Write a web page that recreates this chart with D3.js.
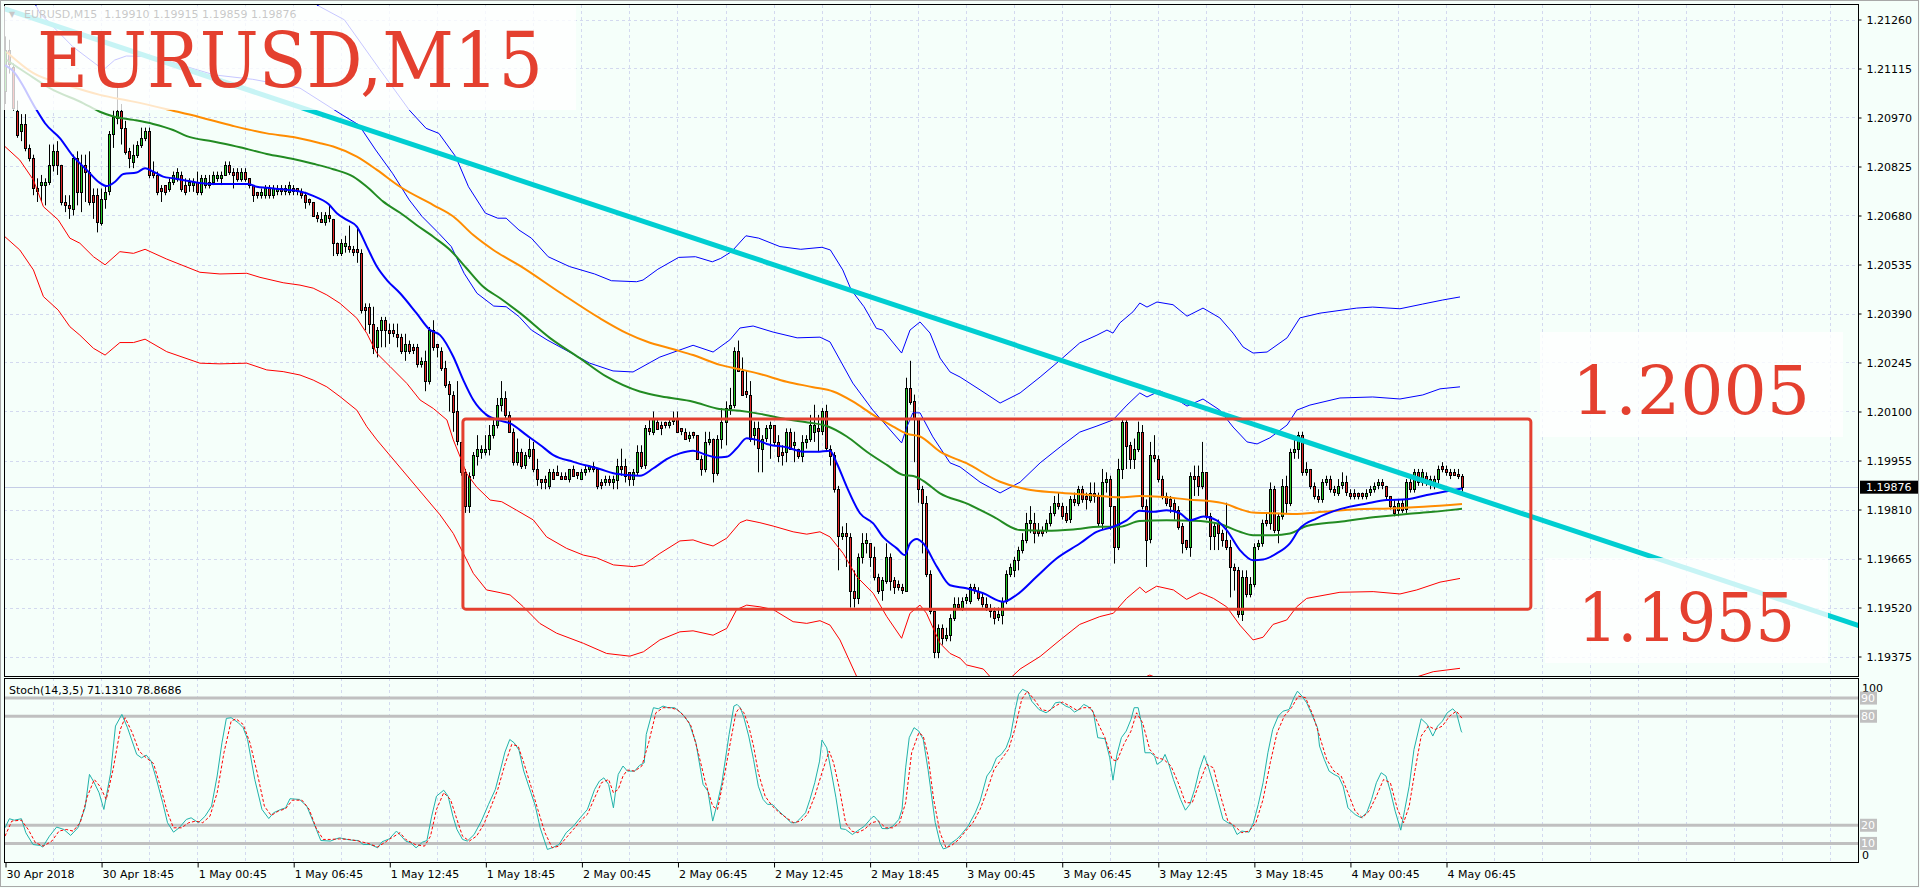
<!DOCTYPE html>
<html>
<head>
<meta charset="utf-8">
<script src="https://cdn.jsdelivr.net/npm/d3@7"></script>
<style>
  html, body { margin: 0; padding: 0; background: #f5fffa; }
  svg { display: block; }
  text { font-family: "DejaVu Sans", sans-serif; }
</style>
</head>
<body>
<svg id="chart"></svg>
<script>
// EURUSD M15, 30 Apr 12:45 .. 4 May 07:45, one entry per bar
const opens = [
  1.2105,1.2117,1.2112,1.2099,1.2093,1.2095,1.2088,1.2085,1.2075,1.2077,
  1.2077,1.2078,1.2083,1.2087,1.2083,1.2072,1.2071,1.2070,1.2085,1.2075,
  1.2083,1.2081,1.2074,1.2074,1.2066,1.2073,1.2075,1.2092,1.2097,1.2099,
  1.2094,1.2087,1.2084,1.2086,1.2089,1.2091,1.2093,1.2081,1.2080,1.2076,
  1.2077,1.2076,1.2078,1.2079,1.2080,1.2077,1.2077,1.2077,1.2078,1.2075,
  1.2077,1.2077,1.2078,1.2079,1.2079,1.2080,1.2083,1.2081,1.2081,1.2079,
  1.2081,1.2079,1.2077,1.2075,1.2074,1.2074,1.2076,1.2074,1.2075,1.2076,
  1.2075,1.2075,1.2076,1.2076,1.2075,1.2074,1.2073,1.2072,1.2068,1.2067,
  1.2066,1.2068,1.2067,1.2060,1.2057,1.2059,1.2059,1.2058,1.2058,1.2057,
  1.2041,1.2041,1.2036,1.2029,1.2034,1.2037,1.2034,1.2034,1.2033,1.2032,
  1.2028,1.2030,1.2029,1.2029,1.2024,1.2025,1.2019,1.2034,1.2030,1.2028,
  1.2023,1.2018,1.2015,1.2010,1.2001,1.1992,1.1982,1.1991,1.1997,1.1998,
  1.1998,1.1999,1.2003,1.2006,1.2012,1.2014,1.2009,1.2004,1.1995,1.1998,
  1.1994,1.1997,1.1999,1.1993,1.1990,1.1990,1.1988,1.1992,1.1992,1.1991,
  1.1991,1.1990,1.1993,1.1992,1.1990,1.1992,1.1993,1.1994,1.1993,1.1989,
  1.1989,1.1990,1.1989,1.1990,1.1994,1.1994,1.1992,1.1990,1.1992,1.1998,
  1.1994,1.2005,1.2004,1.2007,1.2006,1.2007,1.2006,1.2007,1.2008,1.2005,
  1.2004,1.2002,1.2004,1.2003,1.1996,1.1993,1.2001,1.2002,1.1992,1.2002,
  1.2007,1.2011,1.2012,1.2028,1.2022,1.2016,1.2015,1.2003,1.2005,1.1999,
  1.2002,1.2005,1.2006,1.2001,1.1998,1.1998,1.2004,1.2000,1.1999,1.1997,
  1.2001,1.2002,1.2004,1.2005,1.2004,1.2010,1.1999,1.1997,1.1987,1.1973,
  1.1974,1.1973,1.1957,1.1955,1.1967,1.1971,1.1971,1.1967,1.1961,1.1957,
  1.1960,1.1967,1.1960,1.1959,1.1958,1.1957,1.2017,1.2013,1.2008,1.1987,
  1.1983,1.1962,1.1951,1.1939,1.1946,1.1943,1.1944,1.1949,1.1953,1.1952,
  1.1954,1.1954,1.1958,1.1957,1.1955,1.1953,1.1952,1.1951,1.1949,1.1950,
  1.1954,1.1962,1.1963,1.1966,1.1969,1.1972,1.1977,1.1977,1.1975,1.1975,
  1.1975,1.1977,1.1980,1.1983,1.1982,1.1980,1.1978,1.1984,1.1983,1.1987,
  1.1985,1.1984,1.1986,1.1985,1.1977,1.1989,1.1990,1.1982,1.1970,1.1993,
  1.2007,1.2000,1.1996,1.1999,1.2004,1.1982,1.1972,1.1997,1.1996,1.1990,
  1.1985,1.1984,1.1983,1.1981,1.1976,1.1972,1.1970,1.1991,1.1991,1.1988,
  1.1992,1.1979,1.1973,1.1977,1.1974,1.1972,1.1970,1.1964,1.1963,1.1950,
  1.1961,1.1956,1.1959,1.1970,1.1971,1.1978,1.1977,1.1987,1.1975,1.1979,
  1.1988,1.1983,1.1998,1.1999,1.2003,1.1992,1.1993,1.1988,1.1985,1.1984,
  1.1989,1.1990,1.1987,1.1986,1.1988,1.1989,1.1986,1.1986,1.1986,1.1986,
  1.1985,1.1986,1.1987,1.1988,1.1989,1.1988,1.1985,1.1982,1.1981,1.1983,
  1.1981,1.1989,1.1987,1.1992,1.1989,1.1991,1.1989,1.1989,1.1990,1.1994,
  1.1993,1.1992,1.1992,1.19915,1.19910
];
const highs = [
  1.2121,1.2120,1.2113,1.2102,1.2098,1.2098,1.2089,1.2086,1.2079,1.2080,
  1.2079,1.2089,1.2089,1.2090,1.2083,1.2074,1.2074,1.2086,1.2087,1.2086,
  1.2086,1.2087,1.2076,1.2076,1.2076,1.2077,1.2093,1.2099,1.2106,1.2101,
  1.2096,1.2088,1.2089,1.2090,1.2094,1.2094,1.2094,1.2084,1.2081,1.2077,
  1.2077,1.2079,1.2081,1.2082,1.2081,1.2079,1.2079,1.2079,1.2081,1.2080,
  1.2080,1.2080,1.2081,1.2081,1.2081,1.2084,1.2084,1.2082,1.2082,1.2082,
  1.2082,1.2079,1.2077,1.2075,1.2076,1.2077,1.2077,1.2077,1.2077,1.2077,
  1.2077,1.2078,1.2077,1.2076,1.2076,1.2075,1.2073,1.2072,1.2069,1.2069,
  1.2069,1.2071,1.2067,1.2060,1.2061,1.2062,1.2065,1.2059,1.2064,1.2058,
  1.2042,1.2042,1.2041,1.2035,1.2038,1.2038,1.2036,1.2036,1.2036,1.2033,
  1.2033,1.2031,1.2030,1.2030,1.2026,1.2028,1.2035,1.2037,1.2030,1.2029,
  1.2025,1.2019,1.2016,1.2019,1.2001,1.1993,1.1992,1.1998,1.2003,1.2000,
  1.2003,1.2006,1.2008,1.2014,1.2019,1.2016,1.2010,1.2005,1.2002,1.1999,
  1.1998,1.2002,1.2001,1.1996,1.1990,1.1991,1.1993,1.1993,1.1994,1.1992,
  1.1992,1.1993,1.1994,1.1992,1.1993,1.1994,1.1994,1.1995,1.1993,1.1990,
  1.1991,1.1991,1.1991,1.1996,1.1999,1.1996,1.1992,1.1993,1.2000,1.2000,
  1.2006,1.2008,1.2010,1.2008,1.2007,1.2007,1.2008,1.2010,1.2010,1.2005,
  1.2005,1.2004,1.2004,1.2003,1.1997,1.2004,1.2004,1.2002,1.2003,1.2011,
  1.2013,1.2017,1.2029,1.2031,1.2026,1.2022,1.2019,1.2007,1.2007,1.2003,
  1.2006,1.2007,1.2006,1.2003,1.2000,1.2005,1.2005,1.2004,1.1999,1.2003,
  1.2003,1.2009,1.2012,1.2009,1.2011,1.2012,1.2000,1.1998,1.1988,1.1976,
  1.1977,1.1974,1.1963,1.1968,1.1974,1.1974,1.1971,1.1970,1.1962,1.1961,
  1.1971,1.1968,1.1961,1.1960,1.1959,1.2020,1.2025,1.2015,1.2008,1.1988,
  1.1985,1.1963,1.1951,1.1947,1.1947,1.1946,1.1950,1.1955,1.1955,1.1955,
  1.1956,1.1959,1.1959,1.1958,1.1956,1.1955,1.1953,1.1952,1.1952,1.1955,
  1.1963,1.1965,1.1967,1.1970,1.1974,1.1980,1.1982,1.1980,1.1977,1.1976,
  1.1978,1.1982,1.1985,1.1986,1.1983,1.1982,1.1985,1.1986,1.1988,1.1988,
  1.1986,1.1989,1.1989,1.1986,1.1993,1.1992,1.1991,1.1982,1.1996,1.2008,
  1.2008,1.2001,1.2002,1.2007,1.2006,1.1984,1.2001,1.2003,1.1997,1.1991,
  1.1986,1.1985,1.1984,1.1982,1.1977,1.1972,1.1992,1.1994,1.1994,1.2001,
  1.1992,1.1980,1.1977,1.1978,1.1975,1.1983,1.1972,1.1965,1.1964,1.1963,
  1.1963,1.1961,1.1971,1.1972,1.1978,1.1980,1.1989,1.1988,1.1980,1.1990,
  1.1991,1.1999,1.2002,1.2004,1.2004,1.1995,1.1993,1.1989,1.1987,1.1990,
  1.1991,1.1991,1.1988,1.1990,1.1992,1.1991,1.1987,1.1987,1.1986,1.1986,
  1.1987,1.1988,1.1989,1.1990,1.1990,1.1988,1.1985,1.1984,1.1984,1.1984,
  1.1990,1.1990,1.1993,1.1993,1.1993,1.1992,1.1991,1.1991,1.1994,1.1995,
  1.1994,1.1993,1.1993,1.1993,1.19915
];
const lows = [
  1.2101,1.2110,1.2099,1.2091,1.2090,1.2087,1.2084,1.2074,1.2072,1.2072,
  1.2071,1.2077,1.2081,1.2080,1.2071,1.2069,1.2067,1.2068,1.2071,1.2069,
  1.2072,1.2071,1.2067,1.2063,1.2065,1.2070,1.2074,1.2088,1.2095,1.2089,
  1.2086,1.2082,1.2082,1.2085,1.2088,1.2090,1.2079,1.2079,1.2074,1.2072,
  1.2074,1.2075,1.2077,1.2078,1.2075,1.2074,1.2075,1.2075,1.2074,1.2074,
  1.2076,1.2076,1.2077,1.2078,1.2077,1.2080,1.2080,1.2076,1.2078,1.2078,
  1.2078,1.2076,1.2072,1.2073,1.2073,1.2073,1.2073,1.2073,1.2074,1.2074,
  1.2074,1.2074,1.2074,1.2074,1.2073,1.2070,1.2071,1.2068,1.2066,1.2066,
  1.2065,1.2066,1.2056,1.2056,1.2056,1.2057,1.2057,1.2056,1.2054,1.2039,
  1.2034,1.2033,1.2027,1.2026,1.2029,1.2029,1.2030,1.2032,1.2029,1.2027,
  1.2025,1.2027,1.2027,1.2023,1.2023,1.2016,1.2018,1.2028,1.2026,1.2022,
  1.2017,1.2010,1.2004,1.2000,1.1991,1.1980,1.1980,1.1990,1.1994,1.1996,
  1.1997,1.1997,1.2002,1.2005,1.2010,1.2008,1.2004,1.1994,1.1994,1.1993,
  1.1993,1.1996,1.1992,1.1988,1.1987,1.1987,1.1987,1.1990,1.1991,1.1990,
  1.1990,1.1989,1.1991,1.1990,1.1990,1.1991,1.1992,1.1992,1.1987,1.1987,
  1.1988,1.1988,1.1987,1.1987,1.1991,1.1989,1.1988,1.1988,1.1991,1.1993,
  1.1993,1.2003,1.2003,1.2005,1.2003,1.2005,1.2005,1.2006,1.2004,1.2003,
  1.2002,1.2001,1.2002,1.1996,1.1991,1.1992,1.2000,1.1989,1.1991,1.1999,
  1.2000,1.2009,1.2011,1.2022,1.2015,1.2014,1.2001,1.2000,1.1992,1.1992,
  1.2001,1.1996,1.2000,1.1995,1.1994,1.1995,1.1999,1.1995,1.1996,1.1995,
  1.1999,1.2001,1.2001,1.1998,1.2003,1.1998,1.1994,1.1986,1.1963,1.1972,
  1.1964,1.1952,1.1952,1.1953,1.1965,1.1968,1.1964,1.1960,1.1956,1.1954,
  1.1959,1.1957,1.1956,1.1957,1.1956,1.1957,1.2012,1.1995,1.1983,1.1968,
  1.1961,1.1950,1.1937,1.1937,1.1941,1.1942,1.1942,1.1948,1.1952,1.1951,
  1.1953,1.1953,1.1956,1.1954,1.1952,1.1951,1.1949,1.1947,1.1948,1.1947,
  1.1953,1.1961,1.1961,1.1963,1.1968,1.1971,1.1974,1.1971,1.1973,1.1973,
  1.1974,1.1976,1.1979,1.1981,1.1978,1.1977,1.1977,1.1982,1.1982,1.1983,
  1.1981,1.1983,1.1983,1.1976,1.1975,1.1986,1.1975,1.1965,1.1969,1.1990,
  1.1993,1.1993,1.1993,1.1998,1.1981,1.1964,1.1971,1.1995,1.1989,1.1984,
  1.1982,1.1980,1.1978,1.1975,1.1968,1.1969,1.1967,1.1985,1.1985,1.1987,
  1.1978,1.1969,1.1969,1.1969,1.1970,1.1969,1.1955,1.1957,1.1949,1.1948,
  1.1955,1.1955,1.1958,1.1969,1.1970,1.1976,1.1975,1.1974,1.1971,1.1978,
  1.1980,1.1982,1.1996,1.1996,1.1991,1.1991,1.1987,1.1984,1.1983,1.1983,
  1.1988,1.1986,1.1985,1.1985,1.1987,1.1985,1.1984,1.1984,1.1984,1.1984,
  1.1984,1.1985,1.1986,1.1987,1.1987,1.1984,1.1981,1.1979,1.1979,1.1980,
  1.1980,1.1986,1.1986,1.1988,1.1988,1.1988,1.1987,1.1987,1.1988,1.1992,
  1.1991,1.1990,1.1991,1.1990,1.19859
];
const closes = [
  1.2117,1.2113,1.2100,1.2092,1.2095,1.2088,1.2085,1.2076,1.2076,1.2078,
  1.2078,1.2083,1.2087,1.2083,1.2072,1.2071,1.2070,1.2085,1.2075,1.2083,
  1.2081,1.2072,1.2072,1.2066,1.2073,1.2075,1.2092,1.2097,1.2099,1.2094,
  1.2087,1.2085,1.2086,1.2089,1.2091,1.2093,1.2080,1.2080,1.2075,1.2075,
  1.2075,1.2078,1.2080,1.2081,1.2076,1.2075,1.2078,1.2078,1.2075,1.2079,
  1.2079,1.2078,1.2080,1.2080,1.2080,1.2083,1.2081,1.2080,1.2079,1.2081,
  1.2079,1.2077,1.2074,1.2074,1.2075,1.2076,1.2074,1.2076,1.2076,1.2075,
  1.2076,1.2077,1.2075,1.2075,1.2074,1.2072,1.2072,1.2068,1.2067,1.2066,
  1.2068,1.2067,1.2060,1.2057,1.2060,1.2060,1.2058,1.2057,1.2057,1.2040,
  1.2040,1.2036,1.2029,1.2034,1.2037,1.2034,1.2033,1.2033,1.2032,1.2028,
  1.2030,1.2028,1.2028,1.2024,1.2025,1.2019,1.2034,1.2029,1.2029,1.2023,
  1.2018,1.2015,1.2010,1.2001,1.1992,1.1982,1.1991,1.1997,1.1999,1.1999,
  1.1999,1.2003,1.2006,1.2012,1.2014,1.2009,1.2004,1.1995,1.1998,1.1994,
  1.1997,1.1999,1.1993,1.1990,1.1989,1.1989,1.1992,1.1990,1.1991,1.1990,
  1.1990,1.1993,1.1991,1.1991,1.1992,1.1993,1.1994,1.1993,1.1988,1.1988,
  1.1990,1.1989,1.1990,1.1994,1.1993,1.1991,1.1990,1.1992,1.1998,1.1994,
  1.2005,1.2004,1.2008,1.2005,1.2005,1.2006,1.2007,1.2008,1.2004,1.2004,
  1.2002,1.2003,1.2003,1.1996,1.1993,1.2001,1.2002,1.1992,1.2002,1.2007,
  1.2011,1.2012,1.2028,1.2022,1.2015,1.2015,1.2002,1.2005,1.1999,1.2002,
  1.2005,1.2006,1.2001,1.1997,1.1997,1.2004,1.1999,1.2001,1.1997,1.2001,
  1.2002,1.2006,1.2006,1.2004,1.2010,1.1999,1.1997,1.1987,1.1973,1.1974,
  1.1973,1.1957,1.1955,1.1967,1.1971,1.1972,1.1967,1.1961,1.1957,1.1960,
  1.1967,1.1960,1.1958,1.1958,1.1957,1.2017,1.2013,1.2008,1.1987,1.1983,
  1.1962,1.1951,1.1939,1.1946,1.1943,1.1944,1.1949,1.1953,1.1952,1.1954,
  1.1955,1.1958,1.1957,1.1955,1.1953,1.1952,1.1951,1.1949,1.1950,1.1954,
  1.1962,1.1964,1.1966,1.1969,1.1972,1.1977,1.1978,1.1974,1.1974,1.1974,
  1.1977,1.1980,1.1983,1.1982,1.1979,1.1978,1.1984,1.1983,1.1987,1.1984,
  1.1984,1.1986,1.1985,1.1977,1.1989,1.1990,1.1982,1.1970,1.1993,1.2007,
  1.2000,1.1996,1.1999,1.2004,1.1982,1.1972,1.1997,1.1996,1.1990,1.1985,
  1.1983,1.1982,1.1981,1.1976,1.1971,1.1970,1.1991,1.1990,1.1988,1.1992,
  1.1979,1.1973,1.1976,1.1974,1.1972,1.1970,1.1964,1.1963,1.1950,1.1961,
  1.1956,1.1959,1.1970,1.1971,1.1977,1.1977,1.1987,1.1975,1.1979,1.1988,
  1.1983,1.1998,1.1999,1.2003,1.1992,1.1993,1.1988,1.1985,1.1984,1.1989,
  1.1990,1.1987,1.1986,1.1988,1.1989,1.1986,1.1985,1.1985,1.1985,1.1985,
  1.1986,1.1987,1.1988,1.1989,1.1988,1.1985,1.1982,1.1980,1.1983,1.1981,
  1.1989,1.1987,1.1992,1.1989,1.1992,1.1989,1.1990,1.1990,1.1993,1.1993,
  1.1992,1.1991,1.1991,1.19910,1.19876
];

// indicator lines as [bar, price]
const maBlue = [[0,1.21125],[1.7,1.21111],[7.9,1.20992],[10,1.20953],[13.7,1.20909],[17.1,1.20854],[20.4,1.20815],[23.3,1.20780],[25.4,1.20767],[27.5,1.20780],[29.6,1.20803],[32.9,1.20807],[35,1.20820],[37,1.20810],[39.5,1.20795],[42,1.20790],[45.4,1.20783],[48.7,1.20776],[52,1.20773],[57,1.20773],[60.8,1.20773],[62.9,1.20765],[65.4,1.20762],[70.4,1.20756],[73.7,1.20751],[77,1.20738],[80.8,1.20714],[82.9,1.20687],[85.4,1.20667],[87.9,1.20647],[90.4,1.20588],[92.9,1.20529],[95.4,1.20489],[98.7,1.20450],[102.8,1.20391],[106.2,1.20341],[108.7,1.20326],[112,1.20262],[114.5,1.20193],[117,1.20134],[120.3,1.20090],[123.7,1.20073],[126.2,1.20065],[130.3,1.20030],[133.7,1.20001],[137,1.19971],[142,1.19951],[145.3,1.19940],[148.6,1.19930],[152,1.19917],[155.3,1.19912],[158.6,1.19910],[162,1.19932],[165.3,1.19959],[168.6,1.19976],[171.9,1.19984],[175.3,1.19971],[177.8,1.19964],[180.3,1.19966],[182.8,1.19991],[185.3,1.20021],[187.8,1.20016],[190.3,1.20004],[195.3,1.19994],[199.4,1.19981],[202.8,1.19981],[206.1,1.19984],[207.8,1.19947],[210.3,1.19877],[213.6,1.19799],[216.9,1.19769],[219.4,1.19728],[222.8,1.19695],[224.8,1.19675],[226.1,1.19710],[227.8,1.19723],[229.4,1.19710],[232.8,1.19641],[236.1,1.19586],[240.2,1.19577],[244.4,1.19562],[249.4,1.19537],[252.7,1.19557],[257.7,1.19611],[262.7,1.19665],[268.6,1.19710],[272.7,1.19744],[276.9,1.19759],[280.2,1.19778],[283.5,1.19806],[286.9,1.19803],[290.2,1.19808],[293.5,1.19799],[296,1.19778],[299.4,1.19789],[302.7,1.19778],[305.2,1.19749],[308.5,1.19690],[311.8,1.19660],[314.3,1.19662],[317.7,1.19680],[321,1.19710],[323.5,1.19754],[327.7,1.19784],[333.5,1.19811],[340.2,1.19828],[345.2,1.19838],[350.2,1.19840],[355.2,1.19853],[360.2,1.19864],[364,1.19872]];
const maGreen = [[0.4,1.21140],[5.4,1.21101],[11.2,1.21057],[19.6,1.21012],[23.7,1.20987],[27.1,1.20973],[32.1,1.20963],[37,1.20951],[42,1.20933],[45.4,1.20915],[52,1.20899],[58.7,1.20882],[65.4,1.20862],[72,1.20847],[77,1.20833],[82,1.20817],[87,1.20795],[90.4,1.20765],[94.5,1.20721],[98.7,1.20688],[102.8,1.20652],[107,1.20617],[111.2,1.20578],[115.3,1.20524],[119.5,1.20469],[123.7,1.20435],[128.7,1.20391],[136.1,1.20318],[143.6,1.20258],[150.3,1.20203],[158.6,1.20159],[165.3,1.20142],[171.9,1.20129],[177.8,1.20109],[183.6,1.20102],[188.6,1.20093],[195.3,1.20077],[201.1,1.20067],[205.3,1.20057],[210.3,1.20026],[215.3,1.19981],[220.3,1.19942],[224.4,1.19912],[226.9,1.19909],[229.4,1.19895],[233.6,1.19858],[240.2,1.19828],[246.9,1.19789],[253.6,1.19749],[260.2,1.19747],[266.9,1.19751],[273.5,1.19759],[278.5,1.19759],[283.5,1.19776],[290.2,1.19778],[296.9,1.19777],[303.5,1.19767],[308.5,1.19744],[311.8,1.19734],[316.8,1.19734],[321,1.19739],[325.2,1.19761],[333.5,1.19774],[341.8,1.19787],[350.2,1.19797],[356.8,1.19803],[364,1.19812]];
const maOrange = [[0.4,1.21164],[7.1,1.21101],[15.4,1.21066],[23.7,1.21037],[32.1,1.21017],[42,1.20990],[48.7,1.20971],[57,1.20945],[65.4,1.20923],[72,1.20912],[78.7,1.20894],[82,1.20884],[87.9,1.20854],[92.9,1.20815],[98.7,1.20765],[107,1.20711],[112,1.20677],[117,1.20622],[122,1.20578],[128.7,1.20531],[138.9,1.20450],[148.6,1.20376],[155.3,1.20332],[160.3,1.20307],[167,1.20284],[171.9,1.20267],[178.6,1.20238],[183.6,1.20225],[188.6,1.20211],[195.3,1.20188],[201.9,1.20172],[206.9,1.20159],[211.9,1.20129],[216.9,1.20090],[221.9,1.20055],[225.3,1.20034],[228.6,1.20026],[233.6,1.19981],[240.2,1.19947],[248.6,1.19892],[255.2,1.19870],[262.7,1.19860],[271,1.19853],[278.5,1.19846],[283.5,1.19850],[288.5,1.19848],[296.9,1.19838],[300.2,1.19836],[305.2,1.19826],[308.5,1.19811],[311.8,1.19801],[316.8,1.19799],[321.8,1.19797],[329.3,1.19803],[337.7,1.19811],[346.1,1.19813],[354.4,1.19818],[364,1.19826]];
const bandUpperInner = [[6.5,1.21330],[8.7,1.21279],[16.9,1.21180],[24.6,1.21111],[27.4,1.21140],[30.3,1.21152],[37,1.21150],[52.3,1.21096],[61.9,1.21083],[73.7,1.21057],[84.2,1.20978],[88.4,1.20948],[92.6,1.20874],[96.8,1.20805],[101,1.20726],[104.2,1.20677],[108.4,1.20627],[111.5,1.20588],[114.7,1.20509],[117.9,1.20450],[122.1,1.20412],[125.2,1.20410],[128.4,1.20381],[131.5,1.20341],[135.4,1.20312],[146.1,1.20243],[151.9,1.20220],[156.9,1.20217],[163.6,1.20261],[171.9,1.20296],[176.9,1.20276],[181.1,1.20312],[183.6,1.20347],[186.9,1.20353],[191.9,1.20335],[197.9,1.20318],[203.6,1.20320],[206.1,1.20306],[211.8,1.20184],[216.8,1.20104],[224,1.20007],[225.3,1.20054],[226.8,1.20096],[228.6,1.20096],[231.8,1.20025],[236.1,1.19948],[238.6,1.19936],[243.6,1.19891],[248.6,1.19859],[253.6,1.19891],[258.6,1.19948],[263.6,1.19995],[268.5,1.20039],[272.8,1.20057],[276.8,1.20075],[280.3,1.20119],[283.5,1.20155],[285.3,1.20143],[288.5,1.20161],[291.8,1.20143],[295.3,1.20116],[299.3,1.20137],[303.5,1.20104],[306.8,1.20054],[310.3,1.20010],[312.8,1.20004],[316,1.20022],[320.3,1.20060],[322.7,1.20104],[326,1.20119],[333.5,1.20140],[341.7,1.20143],[348.5,1.20137],[354.2,1.20149],[358.5,1.20167],[363.5,1.20173]];
const bandUpperOuter = [[75,1.21345],[77.9,1.21303],[84.8,1.21259],[93.7,1.21111],[101,1.20992],[105.2,1.20938],[108.4,1.20923],[112.6,1.20854],[115.8,1.20765],[120,1.20687],[123.1,1.20672],[125.2,1.20672],[128.4,1.20637],[131.5,1.20613],[135.7,1.20558],[141,1.20529],[147.3,1.20507],[151.5,1.20487],[157.8,1.20484],[159.4,1.20489],[163.1,1.20521],[168.3,1.20556],[172.5,1.20558],[176.7,1.20543],[178.8,1.20553],[181.5,1.20573],[185.1,1.20620],[188.3,1.20613],[193.6,1.20588],[198.8,1.20580],[204.1,1.20586],[206.2,1.20578],[209.3,1.20519],[211.4,1.20460],[214.6,1.20410],[217.7,1.20346],[219.3,1.20341],[224,1.20273],[226.1,1.20341],[228.6,1.20365],[231.1,1.20332],[233.6,1.20258],[236.1,1.20217],[238.6,1.20202],[243.6,1.20164],[248.6,1.20125],[253.6,1.20155],[258.6,1.20202],[263.6,1.20252],[268.5,1.20303],[272.8,1.20326],[275.3,1.20341],[276.8,1.20332],[278.5,1.20362],[281.8,1.20395],[283.5,1.20421],[285.3,1.20409],[287.8,1.20424],[291.8,1.20416],[295.3,1.20382],[299.3,1.20406],[303.5,1.20377],[306.8,1.20332],[309.3,1.20291],[311.8,1.20273],[315.3,1.20276],[320.3,1.20318],[323.5,1.20377],[328.5,1.20391],[337.7,1.20406],[341.7,1.20409],[348.5,1.20404],[354.2,1.20418],[359.2,1.20430],[363.5,1.20439]];
const bandLowerInner = [[0,1.20884],[3.7,1.20844],[7.1,1.20785],[9.6,1.20706],[13.3,1.20667],[16.2,1.20613],[18.7,1.20598],[22.1,1.20558],[25,1.20534],[28.7,1.20573],[32.1,1.20568],[35,1.20580],[40.4,1.20551],[48.7,1.20512],[53.7,1.20507],[60.4,1.20509],[63.7,1.20497],[69.5,1.20481],[73.7,1.20474],[77,1.20465],[80.4,1.20445],[83.7,1.20420],[87.9,1.20376],[90.4,1.20331],[92.9,1.20272],[96.2,1.20233],[100.4,1.20183],[103.7,1.20134],[107,1.20109],[110.4,1.20075],[112,1.20016],[113.7,1.19966],[115.3,1.19917],[117.8,1.19877],[121.2,1.19838],[124.1,1.19833],[127.8,1.19808],[132,1.19779],[135.3,1.19729],[140.3,1.19695],[144.5,1.19675],[147.8,1.19667],[152,1.19646],[157,1.19641],[159.5,1.19646],[163.6,1.19680],[168.6,1.19717],[171.9,1.19720],[174.4,1.19710],[176.9,1.19702],[180.3,1.19725],[183.6,1.19771],[185.3,1.19779],[188.6,1.19771],[191.9,1.19761],[196.9,1.19744],[200.3,1.19737],[203.6,1.19744],[206.1,1.19729],[209.4,1.19680],[212.8,1.19611],[216.9,1.19562],[220.3,1.19493],[224,1.19429],[226.1,1.19503],[228.6,1.19527],[230.2,1.19503],[233.6,1.19414],[236.1,1.19384],[238.6,1.19370],[240.2,1.19350],[244.4,1.19338],[248.6,1.19282],[253.6,1.19338],[258.6,1.19375],[263.6,1.19424],[268.5,1.19470],[273.5,1.19493],[276.9,1.19503],[280.2,1.19547],[283.5,1.19580],[285,1.19564],[287.7,1.19583],[291.9,1.19572],[295.2,1.19544],[298.5,1.19564],[301.9,1.19547],[305.2,1.19522],[308.5,1.19468],[311.8,1.19424],[314.3,1.19432],[316.8,1.19470],[320.2,1.19483],[322.7,1.19522],[325.2,1.19547],[333.5,1.19565],[341.8,1.19567],[348.5,1.19560],[352.7,1.19572],[358.5,1.19595],[363.5,1.19606]];
const bandLowerOuter = [[0,1.20617],[3.7,1.20578],[7.1,1.20519],[9.6,1.20440],[13.3,1.20400],[16.2,1.20351],[18.7,1.20326],[22.1,1.20287],[25,1.20267],[28.7,1.20304],[32.1,1.20304],[35,1.20314],[40.4,1.20277],[48.7,1.20243],[53.7,1.20241],[60.4,1.20243],[65.4,1.20223],[69.5,1.20218],[73.7,1.20208],[77,1.20193],[80.4,1.20173],[83.7,1.20144],[87.9,1.20104],[90.4,1.20055],[92.9,1.20016],[108.7,1.19794],[112,1.19739],[114.5,1.19680],[117,1.19621],[120.3,1.19572],[123.7,1.19564],[126.2,1.19557],[129.5,1.19522],[133.6,1.19473],[137.8,1.19444],[144.5,1.19414],[150.3,1.19384],[156.1,1.19376],[159.5,1.19389],[163.6,1.19424],[168.6,1.19448],[171.9,1.19451],[176.9,1.19438],[180.3,1.19458],[182.8,1.19514],[185.3,1.19527],[188.6,1.19522],[191.9,1.19514],[196.9,1.19478],[200.3,1.19473],[203.6,1.19481],[206.1,1.19468],[208.6,1.19424],[212.8,1.19315],[223.6,1.19142],[248.6,1.19039],[268.5,1.19231],[286,1.19320],[298.5,1.19261],[313.5,1.19142],[331,1.19246],[348.5,1.19299],[356.8,1.19330],[363.5,1.19340]];

// Stoch(14,3,5) as [bar, value]
const stochMain = [[0,18.6],[1.1,23.6],[2.3,22.8],[4.1,23.6],[5.2,15.9],[7,9.4],[8.8,8.9],[9.4,8],[11.1,14],[12.9,19],[14.7,17.7],[16.4,14.4],[18.2,18.6],[20,29.6],[21.1,48],[22.3,43.4],[23.5,37.9],[24.7,28.7],[26.4,48.9],[27.6,74.6],[29.2,81],[30.6,73.7],[32.9,59],[34.1,57.1],[35.3,58.6],[36.5,55.3],[37.6,47.1],[39.4,32.4],[40.6,21.4],[42.1,16.2],[43.5,18.6],[45.3,23.2],[46.5,24.1],[48.3,21.4],[50,25],[51.6,30.5],[53,47.1],[54.2,65.4],[55.3,78.8],[56.5,79.2],[58.3,76.4],[59.5,73.7],[60.6,67.2],[62.4,45.2],[64.2,28.7],[65.9,23.7],[67.1,26.9],[68.9,28.7],[70.1,29.6],[71.2,34.6],[73.6,34.2],[75.4,30.5],[77.1,21.4],[78.9,11.6],[81.3,11.3],[82.7,12.5],[83.6,13.1],[85.4,12.2],[86.6,11.8],[88.3,11.6],[89.5,9.4],[91.3,9.4],[93.1,7.6],[94.2,10.9],[96,12.5],[97.8,16.8],[99,14],[100.1,11.3],[101.3,10.4],[102.7,7.6],[104.3,10.7],[105.4,11.6],[106.6,25],[107.8,36],[109.6,39.3],[110.7,36],[111.9,25],[112.9,17.7],[114.3,12.2],[115.5,11.3],[117.2,14.9],[119,22.3],[120.8,31.5],[122.5,39.7],[123.7,49.8],[124.9,60.3],[126.1,67.2],[127.2,65.4],[128.4,61.4],[129.6,49.8],[131.4,37.9],[132.5,30.5],[133.7,18.6],[135.5,6.7],[136.7,7.6],[138.4,9.4],[140.2,15.9],[142,19.5],[143.7,24.1],[145.5,28.7],[147.3,39.7],[148.5,44.3],[149.6,46.1],[150.8,42.5],[152,29.6],[152.6,39.7],[153.2,48],[154.4,52.6],[155.5,49.8],[157.3,49.8],[158.5,52.9],[159.7,54.4],[160.2,70],[162,84.7],[163.2,84.1],[164.4,85.6],[165.6,84.7],[167.3,84.7],[169.1,81.5],[170.9,76.4],[172.6,65.4],[174.4,42.5],[175.6,38.8],[176.8,22.3],[178,32.4],[179.1,43.4],[180.9,70],[182.1,85.6],[182.9,86.5],[183.7,84.7],[184.6,79.2],[185.8,69.1],[187,56.2],[188.2,41.5],[189.4,34.2],[190.5,31.5],[191.7,31.5],[192.9,28.7],[194.7,25],[196.4,21.4],[197.6,21.4],[198.8,24.1],[200,26.9],[201.1,34.2],[202.3,43.4],[203.5,55.3],[204.1,66.9],[205.3,62.6],[206.4,49.8],[207.6,35.1],[208.8,18.1],[210,17.7],[211.7,14.9],[212.9,16.8],[214.7,19.5],[216.5,24.1],[217.1,25],[218.2,22.3],[219.1,18.2],[220.6,18.1],[221.8,19.5],[223.3,23.2],[224.1,28.7],[225,51.6],[225.9,68.2],[227.1,73.7],[228.3,71.8],[229.4,67.2],[230.6,50.7],[232.4,21.4],[233.6,10.4],[234.4,7],[235.3,7.6],[236.5,10.4],[237.7,12.2],[238.9,14.9],[240.6,19.5],[242.4,26.9],[243.6,33.3],[245.3,47.1],[246.5,50.7],[247.7,57.1],[248.9,59],[250.1,62.6],[251.2,69.1],[252.4,83.7],[253.2,92],[254.2,94.8],[255.6,93.3],[256.5,88.3],[258.3,83.7],[260.1,81.9],[261.3,83.7],[262.4,87.4],[263.6,87.8],[265,85.6],[266,84.7],[267.2,82.3],[268.3,83.7],[269.5,86.5],[270.7,85.2],[271.9,82.3],[273,68.2],[274.8,67.6],[276,57.1],[276.8,44.8],[277.8,59],[278.9,68.2],[280.1,71.8],[281.3,78.2],[282.1,84.7],[283.1,84.7],[283.9,76.4],[284.8,59.9],[286.2,59.9],[287.2,58.1],[287.8,53.5],[289,55.3],[289.8,59],[290.7,54],[291.9,45.2],[293.7,34.2],[294.9,28.3],[296,31.5],[297.2,39.7],[298.4,50.7],[299.6,58.4],[300.7,51.6],[302.5,37.9],[304.3,23.2],[305.5,21.4],[306.6,20.4],[307.8,14.9],[309,16.8],[310.8,16.2],[311.9,21.4],[313.1,31.5],[314.3,43.4],[315.5,59.9],[316.7,72.7],[318.1,80.1],[319.3,82.8],[320.8,83.7],[322,90.2],[322.9,93.8],[324,91.1],[325.2,87.4],[326.3,81.9],[327.9,73.7],[328.4,63.6],[329.6,56.2],[330.8,49.8],[332,48],[333.2,46.7],[334.3,41.5],[335.5,29.6],[337.3,25.9],[338.8,24.1],[340.2,26.9],[341.4,34.2],[342.6,43.4],[343.8,48.9],[345,47.1],[346.1,38.8],[347.3,27.8],[348.7,17.3],[349.7,28.7],[350.8,41.5],[352,61.7],[353.8,78.6],[355.3,75.5],[356.7,69.1],[357.9,74.6],[359.1,77.3],[360.3,81.9],[361.7,84.1],[362.6,81.9],[363.8,71.8],[364,71.1]];
const stochSignal = [[0,14],[1.7,22.3],[4.1,22.8],[5.8,17.7],[7.6,10.4],[9.6,8.5],[11.7,11.3],[13.5,16.8],[15.3,17.7],[17,16.8],[18.8,21.4],[20.6,36],[22.3,45.2],[23.7,41.5],[25.3,34.2],[27,50.7],[28.8,72.7],[30,79.2],[31.8,70.9],[33.5,60.8],[35.3,57.1],[37.1,54],[38.8,41.5],[40.6,26.9],[42.1,18.6],[44.1,18.6],[45.9,21.4],[47.7,22.3],[49.4,21.4],[51.2,25],[53,37.9],[54.7,59.9],[56.5,77.3],[57.7,78.6],[59.5,75.5],[61.2,65.4],[63,48.9],[64.8,30.5],[66.5,25.4],[68.3,27.8],[70.1,29.1],[71.8,33.8],[74.2,33.8],[76,28.7],[77.7,18.6],[79.5,12.2],[81.3,12.2],[83.6,12.5],[86,12.2],[88.3,11.3],[90.7,10],[93.1,8.1],[94.8,10.4],[96.6,13.1],[98.7,15.9],[100.1,12.2],[102.5,9.4],[104.8,8.5],[106.3,14],[107.8,28.7],[109.6,37.9],[111.3,34.2],[112.9,23.2],[114.3,14],[116,11.3],[117.8,14],[119.6,20.4],[121.3,29.6],[123.1,39.7],[124.9,53.5],[126.6,64.5],[128.2,63.6],[129.6,54.4],[131.4,41.5],[133.1,28.7],[134.9,15.9],[136.7,7.6],[138.4,8.5],[140.2,13.1],[142,17.7],[143.7,22.3],[145.5,26],[147.3,35.1],[149,43.4],[150.8,45.2],[152,37.9],[153.2,39.7],[154.4,47.1],[155.5,50.4],[157.3,49.8],[159.1,52.6],[160.8,65.4],[162.6,81.9],[164.4,84.7],[166.1,84.7],[167.9,83.7],[169.7,80.1],[171.4,74.6],[173.2,59.9],[175,43.4],[176.8,30.5],[178,28.7],[179.7,47.1],[181.2,65.4],[182.6,81.9],[183.5,84.7],[184.6,81.9],[185.8,74.6],[187,63.6],[188.2,48.9],[189.9,36],[191.7,30.5],[193.5,26.9],[195.2,24.1],[197,21.4],[198.8,22.3],[200.5,26],[202.3,36],[204.1,48.9],[205.9,60.8],[207,54.4],[208.5,39.7],[210,21.4],[211.5,16.8],[212.9,15.9],[214.7,17.7],[216.5,21.4],[218.2,22.3],[220,18.6],[221.8,18.6],[223.5,21.4],[225,32.4],[226.5,59.9],[228.3,70.9],[229.4,69.1],[230.6,58.1],[232,34.2],[233.6,15.9],[235.1,7.6],[236.5,8.9],[238.3,12.2],[240,16.8],[241.8,21.4],[243.6,28.7],[245.3,38.8],[247.1,50.7],[248.9,56.2],[250.7,61.7],[252.4,73.7],[254,89.3],[255.4,93.8],[257.1,89.3],[258.9,83.7],[260.7,82.8],[262.4,85.6],[264.2,87.8],[266,85.6],[267.7,83.4],[269.5,84.7],[271.3,84.7],[273,76.4],[274.8,68.2],[276.6,56.2],[277.8,55.3],[279.5,64.5],[281.3,71.8],[282.7,81.9],[284.2,76.4],[286,61.7],[287.8,57.1],[289.5,56.2],[291.3,52.6],[293.1,43.4],[294.9,32.4],[296.6,32.4],[298.4,43.4],[300.2,53.5],[301.9,51.6],[303.7,36],[305.5,22.3],[307.2,19.5],[309,15.9],[310.8,16.8],[312.5,21.4],[314.3,34.2],[316.1,54.4],[317.8,70.9],[319.6,80.1],[321.4,84.7],[323.1,91.1],[324.9,90.2],[326.7,81],[328.4,69.1],[330.2,56.2],[332,49.8],[333.8,47.1],[335.5,37.9],[337.3,27.8],[339.1,24.1],[340.8,27.8],[342.6,36],[344.4,45.2],[346.1,43.4],[347.9,28.7],[349.4,21.4],[350.8,30.5],[352.3,50.7],[353.8,69.1],[355.6,74.6],[357.3,72.7],[359.1,74.6],[360.9,80.1],[362.6,82.8],[364,78.9]];

const stochLevels = [10, 20, 80, 90];
const priceTicks = [1.21260,1.21115,1.20970,1.20825,1.20680,1.20535,1.20390,1.20245,1.20100,1.19955,1.19810,1.19665,1.19520,1.19375];
const timeTickBars = [0,24,48,72,96,120,144,168,192,216,240,264,288,312,336,360];
const timeLabels = ["30 Apr 2018","30 Apr 18:45","1 May 00:45","1 May 06:45","1 May 12:45","1 May 18:45","2 May 00:45","2 May 06:45","2 May 12:45","2 May 18:45","3 May 00:45","3 May 06:45","3 May 12:45","3 May 18:45","4 May 00:45","4 May 06:45"];

// drawn objects: trend line anchors [bar, price] and the range box
const trendAnchors = [[0, 1.21291], [364, 1.19857]];
const rangeBox = { fromBar: 114.4, toBar: 381.2, top: 1.20078, bottom: 1.19515 };
const rangeLabels = ["1.2005", "1.1955"];
const symbol = "EURUSD,M15";
const stochCaption = "Stoch(14,3,5) 71.1310 78.8686";

(function() {

const W = 1920, H = 888;
const plot = { left: 4, right: 1858, top: 5, bottom: 676 };
const sub = { top: 678, bottom: 862 };
const red = "#e4402f";

const svg = d3.select("#chart").attr("width", W).attr("height", H);
svg.append("rect").attr("width", W).attr("height", H).attr("fill", "#f5fffa");

// Scales
const x = d3.scaleLinear().domain([0, 360]).range([5, 1446]);
const y = d3.scaleLinear().domain([1.19375, 1.21260]).range([656.5, 19.5]);
const ys = d3.scaleLinear().domain([0, 100]).range([861.6, 679.9]);

const defs = svg.append("defs");
defs.append("clipPath").attr("id", "clip-main").append("rect")
    .attr("x", plot.left).attr("y", plot.top)
    .attr("width", plot.right - plot.left).attr("height", plot.bottom - plot.top);
defs.append("clipPath").attr("id", "clip-sub").append("rect")
    .attr("x", plot.left).attr("y", sub.top)
    .attr("width", plot.right - plot.left).attr("height", sub.bottom - sub.top);

const px = v => Math.round(v) + 0.5;

// Grid
const gridBars = d3.range(0, 470, 12);
const grid = svg.append("g")
    .attr("stroke", "#d3d9ef").attr("stroke-dasharray", "3,3").attr("stroke-width", 1);
[[plot.top, plot.bottom], [sub.top, sub.bottom]].forEach(([t, b]) => {
  grid.append("g").selectAll("line")
    .data(gridBars.filter(d => x(d) > plot.left + 2 && x(d) < plot.right))
    .enter().append("line")
    .attr("x1", d => px(x(d))).attr("x2", d => px(x(d)))
    .attr("y1", t).attr("y2", b);
});
grid.append("g").selectAll("line")
    .data(priceTicks)
    .enter().append("line")
    .attr("x1", plot.left).attr("x2", plot.right)
    .attr("y1", d => px(y(d))).attr("y2", d => px(y(d)));

const main = svg.append("g").attr("clip-path", "url(#clip-main)");

// bid line
const last = closes.length - 1;
main.append("line")
    .attr("x1", plot.left).attr("x2", plot.right)
    .attr("y1", px(y(closes[last]))).attr("y2", px(y(closes[last])))
    .attr("stroke", "#c5cde6").attr("stroke-width", 1);

// Candles
const bars = d3.range(opens.length);
const candles = main.append("g").selectAll("g")
    .data(bars)
    .enter().append("g");
candles.append("line")
    .attr("x1", i => px(x(i))).attr("x2", i => px(x(i)))
    .attr("y1", i => y(highs[i])).attr("y2", i => y(lows[i]))
    .attr("stroke", "#000").attr("stroke-width", 1);
candles.append("rect")
    .attr("x", i => Math.round(x(i)) - 0.5)
    .attr("width", 2)
    .attr("y", i => Math.round(y(Math.max(opens[i], closes[i]))) + 0.5)
    .attr("height", i => Math.max(1, Math.round(Math.abs(y(opens[i]) - y(closes[i])))))
    .attr("fill", i => closes[i] >= opens[i] ? "#22c522" : "#e02424")
    .attr("stroke", "#000").attr("stroke-width", 1);

// Indicator lines
const smooth = d3.line().x(d => x(d[0])).y(d => y(d[1])).curve(d3.curveMonotoneX);
const straight = d3.line().x(d => x(d[0])).y(d => y(d[1]));
const series = [
  { data: bandUpperOuter, color: "#0000ff", w: 1, gen: straight },
  { data: bandUpperInner, color: "#0000ff", w: 1, gen: straight },
  { data: bandLowerInner, color: "#ff0000", w: 1, gen: straight },
  { data: bandLowerOuter, color: "#ff0000", w: 1, gen: straight },
  { data: maOrange, color: "#ff8c00", w: 2, gen: smooth },
  { data: maGreen, color: "#228b22", w: 2, gen: smooth },
  { data: maBlue, color: "#0000ff", w: 2, gen: smooth },
];
main.selectAll(".ind")
    .data(series)
    .enter().append("path")
    .attr("class", "ind")
    .attr("d", s => s.gen(s.data))
    .attr("fill", "none")
    .attr("stroke", s => s.color)
    .attr("stroke-width", s => s.w);

// Trend line (ray)
const [[b1, p1], [b2, p2]] = trendAnchors;
const slope = (p2 - p1) / (b2 - b1);
const ray = [-5, 480].map(b => [b, p1 + slope * (b - b1)]);
main.append("path")
    .attr("d", straight(ray))
    .attr("stroke", "#00ced1").attr("stroke-width", 5).attr("fill", "none");

// Range box
main.append("rect")
    .attr("x", x(rangeBox.fromBar)).attr("y", y(rangeBox.top))
    .attr("width", x(rangeBox.toBar) - x(rangeBox.fromBar))
    .attr("height", y(rangeBox.bottom) - y(rangeBox.top))
    .attr("rx", 3)
    .attr("fill", "none").attr("stroke", red).attr("stroke-width", 3);

// Stochastic window
const stochG = svg.append("g").attr("clip-path", "url(#clip-sub)");
stochG.selectAll(".lvl")
    .data(stochLevels)
    .enter().append("line")
    .attr("class", "lvl")
    .attr("x1", plot.left).attr("x2", plot.right)
    .attr("y1", d => ys(d)).attr("y2", d => ys(d))
    .attr("stroke", "#c0c0c0").attr("stroke-width", 3);
const sline = d3.line().x(d => x(d[0])).y(d => ys(d[1]));
stochG.append("path")
    .attr("d", sline(stochMain))
    .attr("fill", "none").attr("stroke", "#20b2aa").attr("stroke-width", 1);
stochG.append("path")
    .attr("d", sline(stochSignal))
    .attr("fill", "none").attr("stroke", "#ff0000").attr("stroke-width", 1)
    .attr("stroke-dasharray", "3,2");

svg.append("text")
    .attr("x", 9).attr("y", 694)
    .style("font-size", "11px")
    .text(stochCaption);

// Borders
svg.append("rect")
    .attr("x", plot.left + 0.5).attr("y", plot.top - 0.5)
    .attr("width", plot.right - plot.left).attr("height", plot.bottom - plot.top + 1)
    .attr("fill", "none").attr("stroke", "#000");
svg.append("rect")
    .attr("x", plot.left + 0.5).attr("y", sub.top + 0.5)
    .attr("width", plot.right - plot.left).attr("height", sub.bottom - sub.top)
    .attr("fill", "none").attr("stroke", "#000");
svg.append("rect")
    .attr("x", 0.5).attr("y", 0.5).attr("width", W - 2).attr("height", H - 2)
    .attr("fill", "none").attr("stroke", "#a8a8a8");

// Price axis
const yAxis = svg.append("g")
    .attr("transform", `translate(${plot.right + 0.5},0)`)
    .call(d3.axisRight(y).tickValues(priceTicks).tickFormat(d3.format(".5f")).tickSize(3).tickPadding(5));
yAxis.select(".domain").remove();
yAxis.selectAll("text").style("font-size", "11px").attr("fill", "#000")
    .style("font-family", "DejaVu Sans, sans-serif");

// current price tag
const yBid = y(closes[last]);
svg.append("rect")
    .attr("x", plot.right + 2).attr("y", yBid - 6.5)
    .attr("width", 58).attr("height", 13).attr("fill", "#000");
svg.append("text")
    .attr("x", plot.right + 8).attr("y", yBid + 4)
    .attr("fill", "#fff").style("font-size", "11px")
    .text(d3.format(".5f")(closes[last]));

// Stoch axis labels
svg.append("text").attr("x", plot.right + 4).attr("y", 692).style("font-size", "11px").text("100");
svg.append("text").attr("x", plot.right + 4).attr("y", 859).style("font-size", "11px").text("0");
const lvlLab = svg.append("g").selectAll("g")
    .data(stochLevels)
    .enter().append("g");
lvlLab.append("rect")
    .attr("x", plot.right + 2).attr("y", d => ys(d) - 6.5)
    .attr("width", 17).attr("height", 13).attr("fill", "#c0c0c0");
lvlLab.append("text")
    .attr("x", plot.right + 3).attr("y", d => ys(d) + 4)
    .attr("fill", "#fff").style("font-size", "11px")
    .text(d => d);

// Time axis
const xAxis = svg.append("g")
    .attr("transform", `translate(0,${sub.bottom + 0.5})`)
    .call(d3.axisBottom(x).tickValues(timeTickBars).tickFormat((d, i) => timeLabels[i]).tickSize(5));
xAxis.select(".domain").remove();
xAxis.selectAll(".tick line").attr("transform", "translate(0.5,0)");
xAxis.selectAll("text")
    .attr("text-anchor", "start").attr("x", 1).attr("y", 8).attr("dy", "0.71em")
    .attr("fill", "#000").style("font-size", "11px")
    .style("font-family", "DejaVu Sans, sans-serif");

// Header line (sits under the title box)
svg.append("text")
    .attr("x", 9).attr("y", 17).style("font-size", "8px").text("\u25BC");
svg.append("text")
    .attr("x", 24).attr("y", 18)
    .style("font-size", "11px").style("white-space", "pre")
    .text(`${symbol}  ${[opens[last], highs[last], lows[last], closes[last]].map(d3.format(".5f")).join(" ")}`);

// Label boxes and big labels
const labels = [
  { text: symbol, box: [3, 6, 573, 104], tx: 37, ty: 87, size: 77, len: 506 },
  { text: rangeLabels[0], box: [1540, 332, 303, 105], tx: 1572, ty: 414, size: 68, len: 238 },
  { text: rangeLabels[1], box: [1545, 558, 283, 105], tx: 1578, ty: 641, size: 68, len: 217 },
];
const lab = svg.append("g").selectAll("g")
    .data(labels)
    .enter().append("g");
lab.append("rect")
    .attr("x", d => d.box[0]).attr("y", d => d.box[1])
    .attr("width", d => d.box[2]).attr("height", d => d.box[3])
    .attr("fill", "#fff").attr("fill-opacity", 0.78);
lab.append("text")
    .attr("x", d => d.tx).attr("y", d => d.ty)
    .attr("textLength", d => d.len).attr("lengthAdjust", "spacingAndGlyphs")
    .attr("fill", red)
    .style("font-family", "'DejaVu Serif', 'Liberation Serif', serif")
    .style("font-size", d => d.size + "px")
    .text(d => d.text);

})();
</script>
</body>
</html>
